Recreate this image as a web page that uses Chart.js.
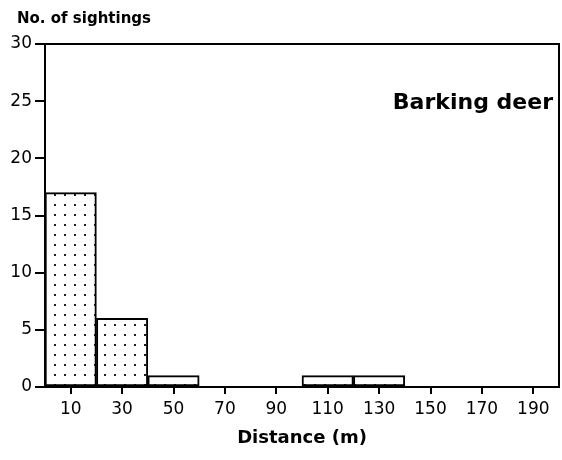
<!DOCTYPE html>
<html>
<head>
<meta charset="utf-8">
<script src="https://cdn.jsdelivr.net/npm/chart.js@4/dist/chart.umd.min.js"></script>
<style>
  html, body { margin: 0; padding: 0; background: #fff; }
  canvas { display: block; }
</style>
</head>
<body>
<canvas id="chart" width="562" height="460"></canvas>
<script>
// --- Data ---
const distances = ['10', '30', '50', '70', '90', '110', '130', '150', '170', '190'];
const sightings = [17, 6, 1, 0, 0, 1, 1, 0, 0, 0];
const yTicks = [0, 5, 10, 15, 20, 25, 30];
const yLabel = 'No. of sightings';
const xLabel = 'Distance (m)';
const speciesLabel = 'Barking deer';

// dotted fill like the printed histogram
function dotPattern() {
    const c = document.createElement('canvas');
    c.width = 10; c.height = 10;
    const g = c.getContext('2d');
    g.fillStyle = '#fff';
    g.fillRect(0, 0, 10, 10);
    g.fillStyle = '#222';
    g.fillRect(4, 4, 2, 2);
    return g.createPattern(c, 'repeat');
}

// frame (top + right) and the loose text labels
const framePlugin = {
    id: 'frame',
    afterDraw(chart) {
        const { ctx, chartArea: a } = chart;
        ctx.save();
        ctx.strokeStyle = '#000';
        ctx.lineWidth = 2;
        ctx.beginPath();
        ctx.moveTo(a.left, a.top);
        ctx.lineTo(a.right, a.top);
        ctx.lineTo(a.right, a.bottom);
        ctx.stroke();

        ctx.fillStyle = '#000';
        ctx.textBaseline = 'middle';
        ctx.font = 'bold 15px "DejaVu Sans"';
        ctx.textAlign = 'left';
        ctx.fillText(yLabel, 17, 19);

        ctx.font = 'bold 22px "DejaVu Sans"';
        ctx.textAlign = 'right';
        ctx.fillText(speciesLabel, 553, 103);
        ctx.restore();
    }
};

new Chart(document.getElementById('chart'), {
    type: 'bar',
    data: {
        labels: distances,
        datasets: [{
            data: sightings,
            backgroundColor: dotPattern(),
            borderColor: '#000',
            borderWidth: 2,
            borderSkipped: false,
            barPercentage: 1,
            categoryPercentage: 1
        }]
    },
    options: {
        responsive: false,
        animation: false,
        devicePixelRatio: 1,
        layout: { padding: { left: 0, right: 3, top: 44, bottom: 0 } },
        plugins: { legend: { display: false }, tooltip: { enabled: false }, title: { display: false } },
        scales: {
            x: {
                grid: { drawOnChartArea: false, offset: false, tickLength: 7, color: '#000', lineWidth: 2 },
                border: { color: '#000', width: 2 },
                ticks: { color: '#000', font: { family: 'DejaVu Sans', size: 17 }, padding: 5, maxRotation: 0 },
                title: {
                    display: true, text: xLabel, color: '#000',
                    font: { family: 'DejaVu Sans', size: 18, weight: 'bold' },
                    padding: { top: 0, bottom: 11 }
                },
                afterFit(scale) { scale.height = 73; }
            },
            y: {
                min: yTicks[0],
                max: yTicks[yTicks.length - 1],
                grid: { drawOnChartArea: false, tickLength: 10, color: '#000', lineWidth: 2 },
                border: { color: '#000', width: 2 },
                ticks: { stepSize: 5, color: '#000', font: { family: 'DejaVu Sans', size: 17 }, padding: 3 },
                afterFit(scale) { scale.width = 45; }
            }
        }
    },
    plugins: [framePlugin]
});
</script>
</body>
</html>
